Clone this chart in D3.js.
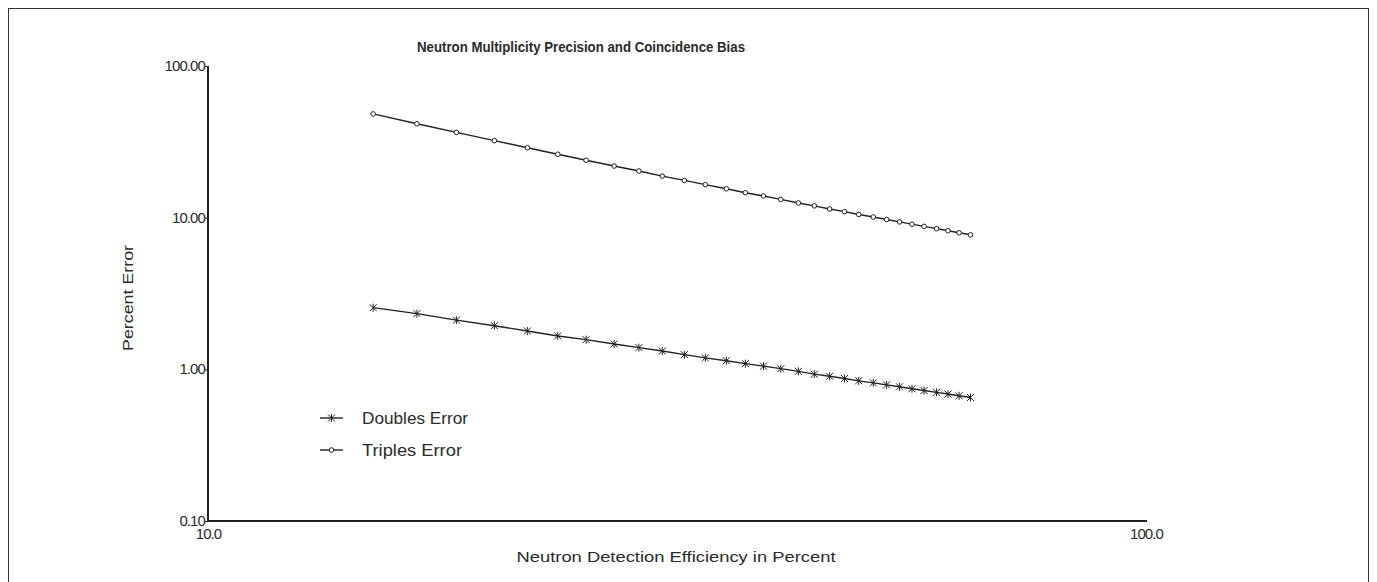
<!DOCTYPE html>
<html>
<head>
<meta charset="utf-8">
<script src="https://cdn.jsdelivr.net/npm/d3@7"></script>
<style>
	body { margin: 0; background: #fff; }
	text { font-family: "Liberation Sans", Arial, sans-serif; fill: #2a2a2a; }
</style>
</head>
<body>
<div id="chart"></div>
<script>

// detection efficiency (%) for each computed point
var efficiency = [15.0, 16.7, 18.4, 20.2, 21.9, 23.6, 25.3, 27.1, 28.8, 30.5,
	32.2, 33.9, 35.7, 37.4, 39.1, 40.8, 42.6, 44.3, 46.0, 47.7,
	49.4, 51.2, 52.9, 54.6, 56.3, 58.0, 59.8, 61.5, 63.2, 65.0];

var doublesError = [2.55, 2.33, 2.11, 1.94, 1.79, 1.66, 1.57, 1.47, 1.39, 1.32,
	1.25, 1.19, 1.14, 1.09, 1.05, 1.01, 0.97, 0.93, 0.90, 0.87,
	0.84, 0.814, 0.790, 0.767, 0.745, 0.725, 0.705, 0.687, 0.669, 0.652];

var triplesError = [48.3, 41.6, 36.5, 32.2, 28.9, 26.2, 23.9, 21.9, 20.3, 18.8,
	17.6, 16.5, 15.5, 14.6, 13.9, 13.2, 12.5, 11.96, 11.4, 10.96,
	10.5, 10.1, 9.72, 9.38, 9.06, 8.76, 8.46, 8.20, 7.95, 7.71];

var yTicks = [0.1, 1, 10, 100];
var xTicks = [10, 100];

var seriesNames = ["Doubles Error", "Triples Error"];

var W = 1377, H = 582;

var svg = d3.select("#chart").append("svg")
	.attr("width", W)
	.attr("height", H);

// outer frame
svg.append("rect")
	.attr("x", 8.5).attr("y", 8.5)
	.attr("width", 1360).attr("height", 600)
	.attr("fill", "none")
	.attr("stroke", "#333")
	.attr("stroke-width", 1);

var x = d3.scaleLog([10, 100], [208, 1146]);
var y = d3.scaleLog([0.1, 100], [521, 66]);

var g = svg.append("g");

// axes
var yaxis = d3.axisLeft(y).tickValues(yTicks).tickSize(3).tickFormat(d3.format(".2f"));
var xaxis = d3.axisBottom(x).tickValues(xTicks).tickSize(0).tickFormat(d3.format(".1f"));

g.append("g")
	.attr("transform", "translate(208,0)")
	.call(yaxis)
	.call(a => a.select(".domain").attr("stroke", "#222").attr("stroke-width", 2).attr("d", "M0,66V521"))
	.call(a => a.selectAll("line").attr("stroke", "#222"))
	.call(a => a.selectAll("text")
		.attr("x", -3).attr("dy", "0.3em")
		.attr("font-size", 15).attr("letter-spacing", -0.9).attr("fill", "#2a2a2a"));

g.append("g")
	.attr("transform", "translate(0,521)")
	.call(xaxis)
	.call(a => a.select(".domain").attr("stroke", "#222").attr("stroke-width", 2).attr("d", "M208,0H1147"))
	.call(a => a.selectAll("text")
		.attr("y", 7).attr("font-size", 15).attr("letter-spacing", -0.9).attr("fill", "#2a2a2a"));

// titles
svg.append("text")
	.attr("x", 581).attr("y", 52)
	.attr("text-anchor", "middle")
	.attr("font-size", 15)
	.attr("font-weight", "bold")
	.attr("fill", "#333")
	.attr("textLength", 328)
	.attr("lengthAdjust", "spacingAndGlyphs")
	.text("Neutron Multiplicity Precision and Coincidence Bias");

svg.append("text")
	.attr("transform", "translate(133,298) rotate(-90)")
	.attr("text-anchor", "middle")
	.attr("font-size", 15)
	.attr("textLength", 106)
	.attr("lengthAdjust", "spacingAndGlyphs")
	.text("Percent Error");

svg.append("text")
	.attr("x", 676).attr("y", 562)
	.attr("text-anchor", "middle")
	.attr("font-size", 15)
	.attr("textLength", 319)
	.attr("lengthAdjust", "spacingAndGlyphs")
	.text("Neutron Detection Efficiency in Percent");

// markers
function starMarker(sel)	{
	sel.append("path")
		.attr("d", "M-3.5,-3.5L3.5,3.5M-3.5,3.5L3.5,-3.5M0,-4V4")
		.attr("stroke", "#222")
		.attr("stroke-width", 1)
		.attr("fill", "none");
}

function circleMarker(sel)	{
	sel.append("circle")
		.attr("r", 2.3)
		.attr("fill", "#fff")
		.attr("stroke", "#222")
		.attr("stroke-width", 1);
}

var series = [
	{ name: seriesNames[0], vals: doublesError, marker: starMarker, len: 106 },
	{ name: seriesNames[1], vals: triplesError, marker: circleMarker, len: 100 }
];

var line = d3.line()
	.x((d, i) => x(efficiency[i]))
	.y(d => y(d));

series.forEach(s => {

	g.append("path")
		.attr("fill", "none")
		.attr("stroke", "#222")
		.attr("stroke-width", 1.4)
		.attr("d", line(s.vals));

	g.selectAll(null)
		.data(s.vals)
		.join("g")
			.attr("transform", (d, i) => `translate(${x(efficiency[i])},${y(d)})`)
			.call(s.marker);

});

// legend
var legend = svg.append("g").attr("transform", "translate(320,418)");

series.forEach((s, i) => {

	var row = legend.append("g").attr("transform", `translate(0,${i * 32})`);

	row.append("line")
		.attr("x1", 0).attr("x2", 23)
		.attr("stroke", "#222")
		.attr("stroke-width", 1.4);

	row.append("g")
		.attr("transform", "translate(11.5,0)")
		.call(s.marker);

	row.append("text")
		.attr("x", 42).attr("dy", "0.35em")
		.attr("font-size", 16)
		.attr("textLength", s.len)
		.attr("lengthAdjust", "spacingAndGlyphs")
		.text(s.name);

});

</script>
</body>
</html>
